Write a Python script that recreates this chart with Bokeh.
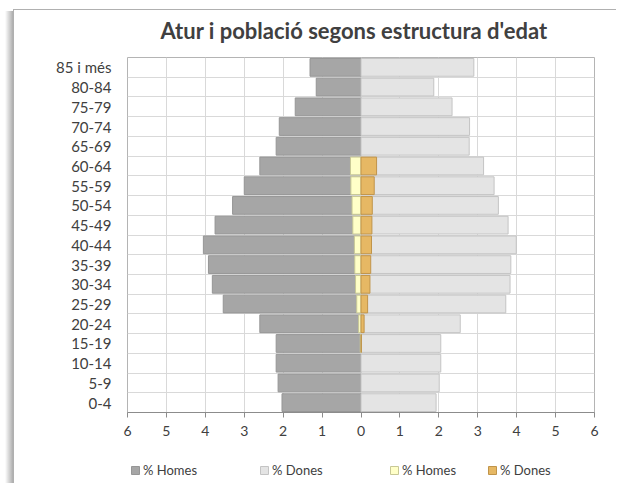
from bokeh.plotting import figure
from bokeh.models import ColumnDataSource, FixedTicker, Legend, LegendItem, Spacer
from bokeh.layouts import column, row
from bokeh.embed import file_html
from bokeh.resources import INLINE

# ---- data ----
groups = ["0-4", "5-9", "10-14", "15-19", "20-24", "25-29", "30-34", "35-39",
          "40-44", "45-49", "50-54", "55-59", "60-64", "65-69", "70-74",
          "75-79", "80-84", "85 i més"]
pob_homes = [2.03, 2.13, 2.18, 2.18, 2.60, 3.54, 3.82, 3.92, 4.05, 3.75,
             3.30, 3.00, 2.60, 2.18, 2.10, 1.69, 1.15, 1.31]
pob_dones = [1.93, 2.01, 2.05, 2.05, 2.55, 3.72, 3.83, 3.85, 3.99, 3.78,
             3.53, 3.42, 3.15, 2.78, 2.79, 2.34, 1.87, 2.90]
atur_homes = [0, 0, 0, 0.02, 0.06, 0.11, 0.14, 0.16, 0.17, 0.21,
              0.23, 0.26, 0.27, 0, 0, 0, 0, 0]
atur_dones = [0, 0, 0, 0.01, 0.08, 0.17, 0.23, 0.25, 0.27, 0.28,
              0.29, 0.34, 0.40, 0, 0, 0, 0, 0]
x_ticks = list(range(-6, 7))
title_text = "Atur i població segons estructura d'edat"
legend_labels = ["% Homes", "% Dones", "% Homes", "% Dones"]

FONT = "Lato"
TXT = "#404040"
fills = ["#a6a6a6", "#e4e4e4", "#ffffc8", "#e6b864"]
lines = ["#969696", "#c4c4c4", "#c8c896", "#c0944a"]

idx = list(range(len(groups)))


def src(vals, neg):
    ys = [i for i, v in zip(idx, vals) if v > 0]
    vs = [v for v in vals if v > 0]
    if neg:
        return ColumnDataSource(dict(y=ys, left=[-v for v in vs], right=[0] * len(vs)))
    return ColumnDataSource(dict(y=ys, left=[0] * len(vs), right=vs))


W = 602
p = figure(width=W, height=448, output_backend="svg", toolbar_location=None,
           x_range=(-6, 6), y_range=(-0.5, len(groups) - 0.5),
           min_border_left=113, min_border_right=22, min_border_top=40,
           min_border_bottom=37, title=title_text)

p.title.align = "left"
p.title.offset = 33
p.title.text_font = FONT
p.title.text_font_size = "22px"
p.title.text_font_style = "bold"
p.title.text_color = TXT
p.title.standoff = 27

p.outline_line_color = "#b4b4b4"
p.background_fill_color = "white"
p.border_fill_alpha = 0

h = 0.9
series = [(pob_homes, True), (pob_dones, False), (atur_homes, True), (atur_dones, False)]
sources = [src(vals, neg) for vals, neg in series]
for s, fc, lc in zip(sources, fills, lines):
    p.hbar(y="y", left="left", right="right", height=h, source=s,
           fill_color=fc, line_color=lc, line_width=1)

# axes
p.xaxis.ticker = FixedTicker(ticks=x_ticks)
p.xaxis.major_label_overrides = {t: str(abs(t)) for t in x_ticks}
p.xaxis.minor_tick_line_color = None
p.xaxis.major_tick_in = 0
p.xaxis.major_tick_out = 5
p.xaxis.major_tick_line_color = "#8c8c8c"
p.xaxis.axis_line_color = "#8c8c8c"
p.xaxis.major_label_text_font = FONT
p.xaxis.major_label_text_font_size = "14px"
p.xaxis.major_label_text_color = TXT
p.xaxis.major_label_standoff = 8

p.yaxis.ticker = FixedTicker(ticks=idx)
p.yaxis.major_label_overrides = {i: g for i, g in zip(idx, groups)}
p.yaxis.minor_tick_line_color = None
p.yaxis.major_tick_line_color = None
p.yaxis.axis_line_color = None
p.yaxis.major_label_text_font = FONT
p.yaxis.major_label_text_font_size = "15px"
p.yaxis.major_label_text_color = TXT
p.yaxis.major_label_standoff = 10

p.xgrid.ticker = FixedTicker(ticks=x_ticks)
p.xgrid.grid_line_color = "#d9d9d9"
p.ygrid.ticker = FixedTicker(ticks=[i - 0.5 for i in idx] + [len(groups) - 0.5])
p.ygrid.grid_line_color = "#d9d9d9"

# legend strip: hidden swatch renderers sharing the series sources
LH = 34
lp = figure(width=W, height=LH, output_backend="svg", toolbar_location=None,
            x_range=(-6, 6), y_range=(-0.5, len(groups) - 0.5),
            x_axis_type=None, y_axis_type=None, min_border=0)
lp.outline_line_color = None
lp.grid.visible = False
lp.background_fill_color = "white"
lp.border_fill_color = "white"
positions = [3, 132, 262, 360]
for lab, s, fc, lc, xpos in zip(legend_labels, sources, fills, lines, positions):
    r = lp.hbar(y="y", left="left", right="right", height=h, source=s,
                fill_color=fc, line_color=lc, line_width=1, visible=False)
    lg = Legend(items=[LegendItem(label=lab, renderers=[r])], location=(xpos, 5),
                orientation="horizontal", padding=0, margin=0, spacing=0,
                border_line_color=None, background_fill_alpha=0,
                inactive_fill_alpha=0,
                glyph_width=10, glyph_height=10, label_standoff=3,
                label_text_font=FONT, label_text_font_size="13px",
                label_text_color=TXT, label_height=14)
    lp.add_layout(lg, "center")

inner = column(p, lp, spacing=0)
layout = column(Spacer(width=616, height=1),
                row(Spacer(width=14, height=10), inner, spacing=0),
                spacing=0)
layout.styles = {
    "background": ("linear-gradient(#b0b0b0, #b0b0b0) 13px 9px / 603px 1px no-repeat, "
                   "linear-gradient(#b0b0b0, #b0b0b0) 13px 9px / 1px 100% no-repeat, "
                   "linear-gradient(to right, rgba(0,0,0,0), rgba(0,0,0,0.32)) "
                   "5px 11px / 8px 100% no-repeat")
}

open("out.html", "w").write(file_html(layout, INLINE))
